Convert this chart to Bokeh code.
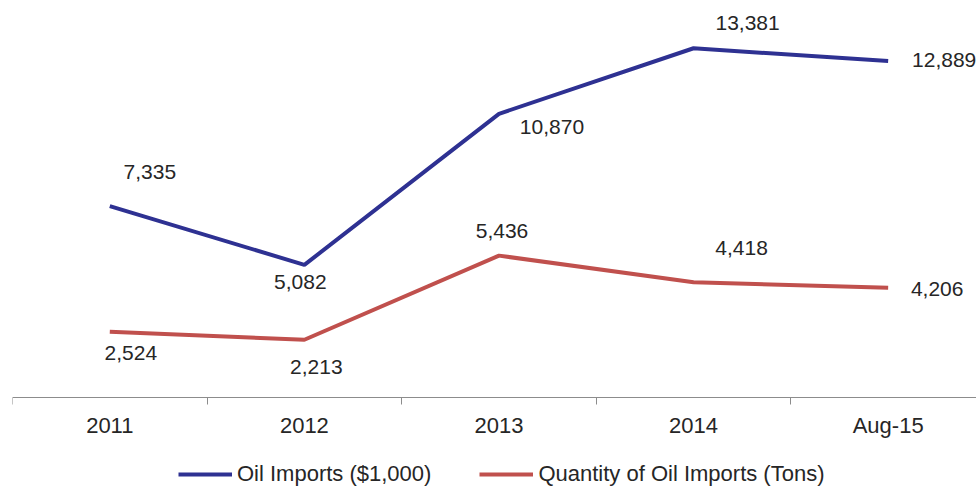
from bokeh.plotting import figure
from bokeh.models import ColumnDataSource, FixedTicker, Legend, LegendItem, Range1d
from bokeh.embed import file_html
from bokeh.resources import INLINE
from bokeh.core.properties import value

categories = ["2011", "2012", "2013", "2014", "Aug-15"]
oil_imports_value = [7335, 5082, 10870, 13381, 12889]
oil_imports_tons = [2524, 2213, 5436, 4418, 4206]

# label placement offsets (pixels)
value_label_dx = [40, -4, 53, 54, 56]
value_label_dy = [-34, 17, 13, -25, -1]
tons_label_dx = [21, 12, 3, 48, 49]
tons_label_dy = [21, 27, -25, -34, 1]

BLUE = "#2E3192"
RED = "#C0504D"
FONT = "Liberation Sans"
TXT = "#262626"

xs = list(range(len(categories)))

src_v = ColumnDataSource(dict(
    x=xs, y=oil_imports_value,
    label=[f"{v:,}" for v in oil_imports_value],
    dx=value_label_dx, dy=value_label_dy))
src_t = ColumnDataSource(dict(
    x=xs, y=oil_imports_tons,
    label=[f"{v:,}" for v in oil_imports_tons],
    dx=tons_label_dx, dy=tons_label_dy))

p = figure(width=976, height=487, output_backend="svg", toolbar_location=None,
           x_range=Range1d(-0.5, 4.454), y_range=Range1d(-3448, 15211),
           min_border_left=12, min_border_right=0, min_border_top=0,
           min_border_bottom=0)
p.outline_line_color = None
p.xgrid.visible = False
p.ygrid.visible = False
p.yaxis.visible = False

ax = p.xaxis[0]
ax.fixed_location = 0
ax.ticker = FixedTicker(ticks=xs, minor_ticks=[i - 0.5 for i in range(len(categories) + 1)])
ax.major_label_overrides = {i: c for i, c in enumerate(categories)}
ax.major_tick_out = 0
ax.major_tick_in = 0
ax.minor_tick_out = 7
ax.minor_tick_in = 0
ax.minor_tick_line_color = "#8c8c8c"
ax.axis_line_color = "#8c8c8c"
ax.major_label_standoff = 8
ax.major_label_text_font = FONT
ax.major_label_text_font_size = "22px"
ax.major_label_text_color = TXT

r1 = p.line("x", "y", source=src_v, line_color=BLUE, line_width=4)
r2 = p.line("x", "y", source=src_t, line_color=RED, line_width=4)

for s in (src_v, src_t):
    p.text("x", "y", text="label", source=s, x_offset="dx", y_offset="dy",
           text_align="center", text_baseline="middle",
           text_font=value(FONT), text_font_size="21px", text_color=TXT)

legend = Legend(items=[LegendItem(label="Oil Imports ($1,000)", renderers=[r1]),
                       LegendItem(label="Quantity of Oil Imports (Tons)", renderers=[r2])],
                orientation="horizontal", location=(166, 0),
                glyph_width=54, glyph_height=24, label_standoff=5, spacing=48,
                padding=0, margin=0, border_line_color=None,
                background_fill_alpha=0,
                label_text_font=FONT, label_text_font_size="22px",
                label_text_color=TXT)
p.add_layout(legend, "center")

open("out.html", "w").write(file_html(p, INLINE))
